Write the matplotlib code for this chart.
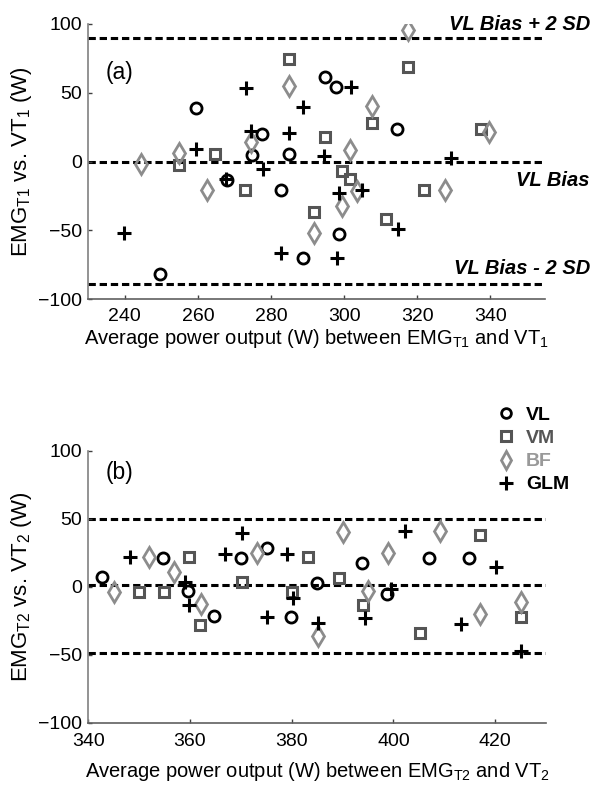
import matplotlib
matplotlib.use("Agg")
import matplotlib.pyplot as plt
from matplotlib.lines import Line2D

plt.rcParams['font.family'] = ['Liberation Sans', 'DejaVu Sans']
plt.rcParams['mathtext.default'] = 'regular'

# ---------------- data: panel (a) ----------------
vl1_x = [259.5, 277.5, 274.7, 267.9, 282.8, 284.8, 249.7, 294.8, 297.7, 314.5, 298.6, 288.7]
vl1_y = [39.2, 19.8, 4.6, -13.4, -20.6, 5.8, -81.9, 61.5, 54.2, 23.5, -52.8, -69.8]
vm1_x = [284.8, 254.9, 264.7, 272.8, 317.5, 307.6, 294.8, 299.4, 301.5, 321.7, 291.8, 311.4, 337.5]
vm1_y = [74.8, -2.5, 5.8, -20.9, 68.8, 27.8, 17.9, -6.8, -12.4, -20.9, -36.3, -41.9, 23.5]
bf1_x = [244.5, 254.8, 262.5, 274.5, 284.8, 317.5, 307.6, 301.5, 303.4, 299.4, 291.8, 327.7, 339.7]
bf1_y = [-2.0, 6.5, -20.6, 14.2, 54.9, 95.4, 40.4, 8.2, -21.4, -32.3, -51.6, -20.9, 21.8]
glm1_x = [273.0, 259.5, 274.5, 284.8, 277.8, 239.8, 282.8, 267.7, 288.7, 301.8, 294.6, 329.3,
          298.7, 304.8, 314.7, 297.9]
glm1_y = [53.8, 8.9, 22.2, 21.1, -5.6, -51.6, -66.1, -12.4, 39.7, 54.2, 4.1, 2.9,
          -22.5, -20.9, -49.2, -69.8]
bias1 = 0.0
upper1 = 90.0
lower1 = -89.0

# ---------------- data: panel (b) ----------------
vl2_x = [342.7, 354.7, 359.7, 364.8, 370.0, 375.1, 379.9, 385.0, 393.9, 398.8, 406.9, 414.9]
vl2_y = [7.4, 20.9, -3.2, -21.5, 20.9, 28.2, -22.1, 2.5, 17.2, -5.6, 20.9, 20.9]
vm2_x = [349.9, 354.8, 359.8, 362.0, 370.2, 380.0, 383.2, 389.2, 394.0, 405.3, 417.1, 425.1]
vm2_y = [-4.1, -4.1, 22.1, -28.2, 3.2, -3.7, 22.1, 6.6, -13.6, -34.3, 38.0, -22.5]
bf2_x = [345.0, 352.0, 356.9, 362.2, 373.2, 385.1, 390.1, 395.0, 399.0, 409.2, 417.1, 425.1]
bf2_y = [-4.1, 22.1, 11.0, -12.9, 25.0, -36.3, 40.0, -3.2, 24.6, 41.2, -20.1, -11.5]
glm2_x = [348.2, 359.1, 359.8, 370.2, 366.9, 375.2, 379.1, 380.3, 385.1, 394.4, 402.2, 420.2,
          413.3, 425.1, 399.5]
glm2_y = [22.1, 3.2, -13.5, 39.3, 23.8, -22.1, 23.8, -8.5, -26.9, -23.3, 41.2, 14.7,
          -27.4, -47.1, -2.0]
bias2 = 1.5
upper2 = 49.8
lower2 = -49.0

series_names = ['VL', 'VM', 'BF', 'GLM']

# ---------------- styles ----------------
TICK_FS = 14
XLAB_FS = 14.5
YLAB_FS = 16
c_vl, c_vm, c_bf, c_glm = 'black', '#555555', '#8c8c8c', 'black'
styles = {
    'VL': dict(marker='o', ms=8, mfc='none', mec=c_vl, mew=2.0, ls='none'),
    'VM': dict(marker='s', ms=7.8, mfc='none', mec=c_vm, mew=2.2, ls='none'),
    'BF': dict(marker='d', ms=10, mfc='none', mec=c_bf, mew=2.0, ls='none'),
    'GLM': dict(marker='+', ms=10.5, mec=c_glm, mew=2.2, ls='none'),
}
text_colors = [c_vl, c_vm, '#999999', c_glm]

W, H = 606, 791
fig = plt.figure(figsize=(W / 100, H / 100), dpi=100)

ax1 = fig.add_axes([88.3 / W, 1 - 299.3 / H, 457 / W, 275.3 / H])
ax2 = fig.add_axes([88.3 / W, 1 - 722.7 / H, 457.7 / W, 272.0 / H])


def style_axes(ax, xpad):
    for s in ['top', 'right']:
        ax.spines[s].set_visible(False)
    ax.spines['left'].set_color('#808080')
    ax.spines['bottom'].set_color('#606060')
    ax.spines['left'].set_linewidth(1.2)
    ax.spines['bottom'].set_linewidth(1.2)
    ax.tick_params(direction='in', length=3, width=1, colors='#404040',
                   labelcolor='black', labelsize=TICK_FS)
    ax.tick_params(axis='x', pad=xpad)
    ax.tick_params(axis='y', pad=4.5)


def draw(ax, data, lines):
    for (x, y), name in zip(data, series_names):
        ax.plot(x, y, **styles[name])
    for v in lines:
        ax.axhline(v, color='black', lw=2.2, ls=(0, (2.4, 1.25)), zorder=0.5)


draw(ax1, [(vl1_x, vl1_y), (vm1_x, vm1_y), (bf1_x, bf1_y), (glm1_x, glm1_y)],
     [upper1, bias1, lower1])
ax1.set_xlim(230, 355)
ax1.set_ylim(-100, 100)
ax1.set_xticks([240, 260, 280, 300, 320, 340])
ax1.set_yticks([-100, -50, 0, 50, 100])
style_axes(ax1, 6)
ax1.set_xlabel(r'Average power output (W) between EMG$_{T1}$ and VT$_1$', fontsize=XLAB_FS, labelpad=2)
ax1.set_ylabel(r'EMG$_{T1}$ vs. VT$_1$ (W)', fontsize=YLAB_FS, labelpad=3)
ax1.text(0.037, 0.825, '(a)', transform=ax1.transAxes, fontsize=16.5, va='center', ha='left')

draw(ax2, [(vl2_x, vl2_y), (vm2_x, vm2_y), (bf2_x, bf2_y), (glm2_x, glm2_y)],
     [upper2, bias2, lower2])
ax2.set_xlim(340, 430)
ax2.set_ylim(-100, 100)
ax2.set_xticks([340, 360, 380, 400, 420])
ax2.set_yticks([-100, -50, 0, 50, 100])
style_axes(ax2, 7.5)
ax2.set_xlabel(r'Average power output (W) between EMG$_{T2}$ and VT$_2$', fontsize=XLAB_FS, labelpad=7)
ax2.set_ylabel(r'EMG$_{T2}$ vs. VT$_2$ (W)', fontsize=YLAB_FS, labelpad=3)
ax2.text(0.037, 0.92, '(b)', transform=ax2.transAxes, fontsize=16.5, va='center', ha='left')

# bias annotations (panel a)
bold_it = dict(fontsize=14.5, fontweight='bold', fontstyle='italic', ha='right', va='center')
fig.text(590 / W, 1 - 24 / H, 'VL Bias + 2 SD', **bold_it)
fig.text(590 / W, 1 - 180 / H, 'VL Bias', **bold_it)
fig.text(590 / W, 1 - 269 / H, 'VL Bias - 2 SD', **bold_it)

# legend
handles = [Line2D([], [], **{**styles[n], 'ms': styles[n]['ms'] - 1}) for n in series_names]
leg = fig.legend(handles, series_names, loc='center left',
                 bbox_to_anchor=(496 / W, 1 - 450 / H), frameon=False,
                 handlelength=1.0, handletextpad=0.55, labelspacing=0.28,
                 borderaxespad=0, borderpad=0,
                 prop=dict(size=14, weight='bold'), labelcolor=text_colors)

fig.savefig('out.png', dpi=100)
